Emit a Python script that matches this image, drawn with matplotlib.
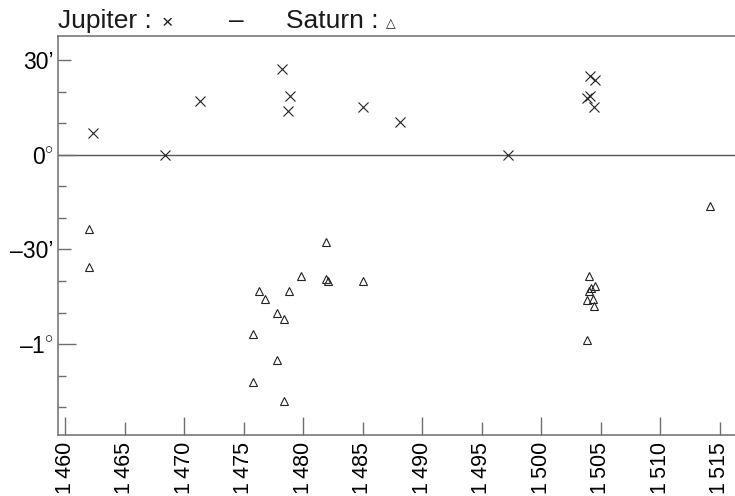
import matplotlib
matplotlib.use('Agg')
import matplotlib.pyplot as plt
import numpy as np

plt.rcParams['font.family'] = ['Liberation Sans', 'DejaVu Sans']
plt.rcParams['mathtext.fontset'] = 'custom'
plt.rcParams['mathtext.rm'] = 'Liberation Sans'
plt.rcParams['mathtext.it'] = 'Liberation Sans:italic'

# Jupiter latitudes (arc minutes) by year
jup_year = [1462.3, 1468.4, 1471.3, 1478.2, 1478.9, 1478.7, 1485.0, 1488.1,
            1497.2, 1504.1, 1504.5, 1503.8, 1504.1, 1504.4]
jup_lat = [6.8, 0.0, 17.0, 27.0, 18.6, 13.9, 15.0, 10.5,
           0.0, 24.9, 23.7, 18.1, 18.6, 15.0]

# Saturn latitudes (arc minutes) by year
sat_year = [1462.0, 1462.0, 1481.9, 1479.8, 1481.9, 1482.1, 1485.0, 1476.3,
            1478.8, 1476.8, 1477.8, 1478.4, 1475.8, 1477.8, 1475.8, 1478.4,
            1514.2, 1504.0, 1504.5, 1504.2, 1504.0, 1503.8, 1504.3, 1504.4, 1503.8]
sat_lat = [-23.5, -35.7, -27.6, -38.5, -39.5, -40.0, -40.0, -43.1,
           -43.1, -45.7, -50.1, -52.1, -56.7, -65.1, -72.1, -78.1,
           -16.3, -38.5, -41.6, -42.1, -43.1, -45.9, -45.7, -48.0, -58.6]

x_ticks = list(range(1460, 1516, 5))
x_labels = ['1\u2009%03d' % (t - 1000) for t in x_ticks]
y_ticks = [30, 0, -30, -60]
y_labels = ['30\u2019', '$\\mathrm{0}^{\\circ}$', '\u201330\u2019',
            '$\\mathrm{\u20131}^{\\circ}$']

spine_col = '#6e6e6e'
mark_col = '#222222'

fig = plt.figure(figsize=(7.35, 4.96), dpi=100)
ax = fig.add_axes([58 / 735, 1 - 435 / 496, 1 - 58 / 735, (435 - 36) / 496])

ax.axhline(0, color='#555555', lw=1.0, zorder=1)
ax.plot(jup_year, jup_lat, ls='none', marker='x', ms=6.8, mew=0.8,
        color=mark_col, zorder=3)
ax.plot(sat_year, sat_lat, ls='none', marker='^', ms=6.3, mew=0.8,
        mfc='none', mec=mark_col, zorder=3)

ax.set_xlim(1459.4, 1516.26)
ax.set_ylim(-88.8, 37.6)

for s in ['left', 'top', 'bottom']:
    ax.spines[s].set_color(spine_col)
    ax.spines[s].set_linewidth(1.1)
ax.spines['right'].set_visible(False)

ax.set_xticks(x_ticks)
ax.set_xticklabels(x_labels, rotation=90, fontsize=15.5)
ax.set_yticks(y_ticks)
ax.set_yticklabels(y_labels, fontsize=16.5)
ax.set_yticks(np.arange(-80, 31, 10), minor=True)
ax.tick_params(axis='both', which='both', direction='in', color=spine_col, width=1.0)
ax.tick_params(axis='x', which='major', pad=5)
ax.tick_params(axis='y', which='major', pad=3)
ax.tick_params(axis='y', which='minor', length=6)
ax.tick_params(axis='x', which='minor', bottom=False)

# longer ticks for decades and whole degrees
for t, v in zip(ax.xaxis.get_major_ticks(), x_ticks):
    t.tick1line.set_markersize(13 if v % 10 == 0 else 9.5)
for t, v in zip(ax.yaxis.get_major_ticks(), y_ticks):
    t.tick1line.set_markersize(13 if v % 60 == 0 else 9.5)

# legend-style header
fig.text(58 / 735, 1 - 28 / 496, 'Jupiter :', fontsize=19, color='#1a1a1a')
fig.text(162 / 735, 1 - 28 / 496, '\u00d7', fontsize=14, color='#1a1a1a')
fig.text(229 / 735, 1 - 28 / 496, '\u2013', fontsize=19, color='#1a1a1a')
fig.text(286 / 735, 1 - 28 / 496, 'Saturn :', fontsize=19, color='#1a1a1a')
fig.text(386 / 735, 1 - 27 / 496, '\u25b3', fontsize=9, color='#1a1a1a',
         family=['DejaVu Sans'])

fig.savefig('out.png', dpi=100)
